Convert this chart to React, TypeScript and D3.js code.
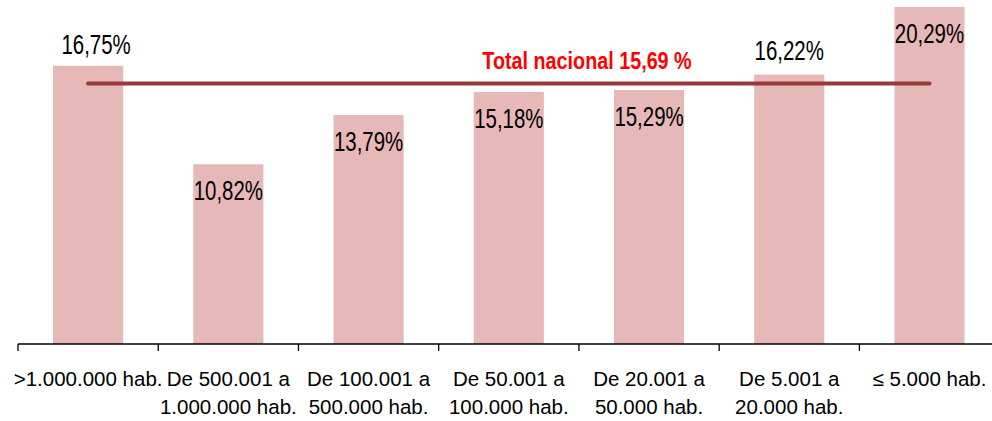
import React from "react";
import * as d3 from "d3";

const categories: string[][] = [
  [">1.000.000 hab."],
  ["De 500.001 a", "1.000.000 hab."],
  ["De 100.001 a", "500.000 hab."],
  ["De 50.001 a", "100.000 hab."],
  ["De 20.001 a", "50.000 hab."],
  ["De 5.001 a", "20.000 hab."],
  ["≤ 5.000 hab."],
];
const values: number[] = [16.75, 10.82, 13.79, 15.18, 15.29, 16.22, 20.29];
const valueLabels: string[] = ["16,75%", "10,82%", "13,79%", "15,18%", "15,29%", "16,22%", "20,29%"];
const totalValue = 15.69;
const totalLabel = "Total nacional 15,69 %";

// label placement: outside (above bar) or inside (below bar top)
const labelPlacement: ("out" | "in")[] = ["out", "in", "in", "in", "in", "out", "in"];

const W = 992;
const H = 421;

export default function App() {
  const x = d3
    .scaleBand<number>()
    .domain(d3.range(values.length))
    .range([18, 999.6])
    .paddingInner(0)
    .paddingOuter(0);
  const y = d3.scaleLinear().domain([0, 20.5]).range([344, 3.5]);
  const bw = x.bandwidth() * 0.5;
  const cx = (i: number) => (x(i) as number) + x.bandwidth() / 2;

  const font = "'Liberation Sans', Arial, sans-serif";
  const ticks = d3.range(values.length + 1).map((i) => 18 + i * x.bandwidth());

  return (
    <svg
      width={W}
      height={H}
      style={{ position: "absolute", left: 0, top: 0, background: "#fff" }}
      fontFamily={font}
    >
      {values.map((v, i) => (
        <rect
          key={"b" + i}
          x={cx(i) - bw / 2}
          y={y(v)}
          width={bw}
          height={y(0) - y(v)}
          fill="#e6b8b7"
        />
      ))}
      <line
        x1={cx(0)}
        x2={cx(values.length - 1)}
        y1={y(totalValue)}
        y2={y(totalValue)}
        stroke="#983a38"
        strokeWidth={4}
        strokeLinecap="round"
      />
      <text
        transform={`translate(587,69) scale(0.8,1)`}
        textAnchor="middle"
        fontSize={24.7}
        fontWeight="bold"
        fill="#ff0000"
      >
        {totalLabel}
      </text>
      {values.map((v, i) => {
        const by =
          labelPlacement[i] === "out" ? y(v) - (i === 0 ? 12 : 15) : y(v) + 36;
        const dx = i === 0 ? 8 : 0;
        return (
          <text
            key={"l" + i}
            transform={`translate(${cx(i) + dx},${by}) scale(0.73,1)`}
            textAnchor="middle"
            fontSize={28}
            fill="#000"
          >
            {valueLabels[i]}
          </text>
        );
      })}
      <line x1={18} x2={W} y1={y(0)} y2={y(0)} stroke="#000" strokeWidth={1.3} />
      {ticks.map((t, i) => (
        <line key={"t" + i} x1={t} x2={t} y1={y(0)} y2={y(0) + 7} stroke="#000" strokeWidth={1.3} />
      ))}
      {categories.map((lines, i) => (
        <text key={"c" + i} textAnchor="middle" fontSize={20.5} fill="#000">
          {lines.map((ln, j) => (
            <tspan key={j} x={cx(i)} y={385.7 + j * 28}>
              {ln}
            </tspan>
          ))}
        </text>
      ))}
    </svg>
  );
}
